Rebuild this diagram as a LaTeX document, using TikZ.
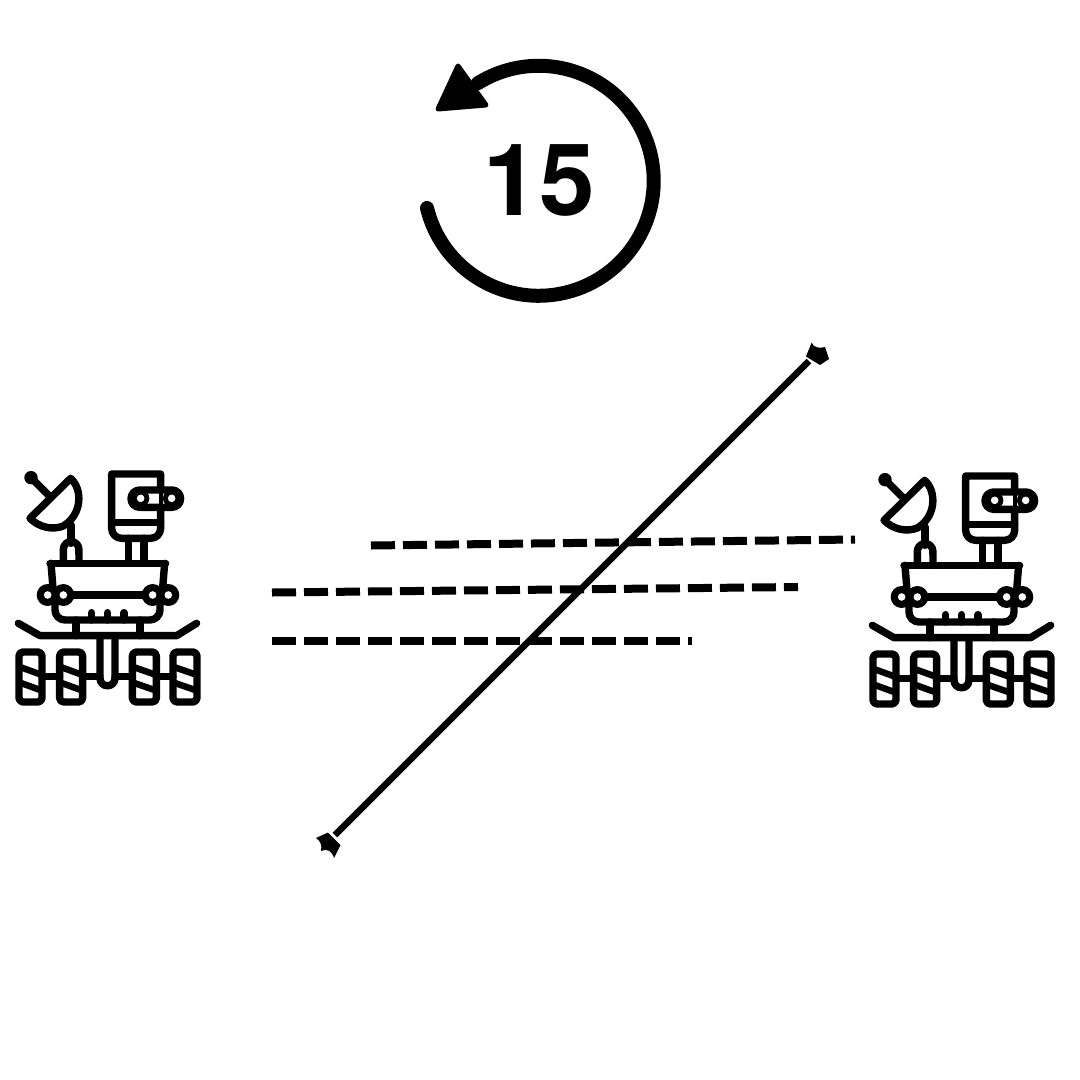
\documentclass[tikz,border=0pt]{standalone}
\usepackage{fontspec}
\setmainfont{TeX Gyre Heros}
\newcommand{\myrover}[2]{%
\begin{scope}[shift={(#1,#2)},x=0.3333pt,y=-0.3333pt,roverline]
  % antenna and dish
  \fill (93,53) circle[radius=6.7pt];
  \draw (93,53) -- (150,110);
  \draw (90,175) -- (212,55) .. controls (250,90) and (245,165) .. (190,198) .. controls (155,212) and (115,200) .. cycle;
  \draw (213,195) -- (213,250);
  \draw (190,310) -- (190,268) arc[start angle=180,end angle=0,radius=7.8pt] -- (237,310);
  % camera
  \draw (335,42) -- (482,42) -- (482,205) arc[start angle=0,end angle=-90,radius=10pt] -- (365,235) arc[start angle=270,end angle=180,radius=10pt] -- cycle;
  \draw (335,188) -- (482,188);
  \draw (385,235) -- (385,310) (432,235) -- (432,310);
  \draw[fill=white,rounded corners=8.7pt] (393,90) rectangle (542,142);
  \fill (478,92) rectangle (490,140);
  \fill (422,115) circle[radius=8.7pt] (515,115) circle[radius=8.7pt];
  \fill[white] (422,115) circle[radius=3.8pt] (515,115) circle[radius=3.8pt];
  % body
  \draw (150,310) -- (497,310);
  \draw (153,310) -- (159,385) (494,310) -- (488,385);
  \draw (165,430) -- (165,450) arc[start angle=180,end angle=270,radius=10pt] -- (450,480) arc[start angle=-90,end angle=0,radius=10pt] -- (480,430);
  \draw (200,405) -- (445,405);
  \foreach \cx in {143,190,458,505}{\fill (\cx,405) circle[radius=11pt];}
  \foreach \cx in {143,190,458,505}{\fill[white] (\cx,405) circle[radius=3.8pt];}
  \foreach \cx in {275,323,372}{\draw (\cx,458) -- (\cx,480);}
  % platform
  \draw (228,480) -- (228,527) (420,480) -- (420,527);
  \draw (55,490) -- (120,527) -- (530,527) -- (590,490);
  \draw (300,530) -- (300,655) arc[start angle=180,end angle=360,radius=7.5pt] -- (345,530);
  % wheels
  \foreach \xa/\xb in {57/126,179/248,397/469,519/591}{
    \draw[rounded corners=4pt] (\xa,576) rectangle (\xb,726);
    \draw[line width=6.5pt,line cap=butt] (\xa,620) -- (\xb,645);
    \draw[line width=6.5pt,line cap=butt] (\xa,667) -- (\xb,692);
  }
  \draw (126,650) -- (179,650) (248,650) -- (300,650) (345,650) -- (397,650) (469,650) -- (519,650);
\end{scope}}
\tikzset{
  roverline/.style={line width=7.4pt,line cap=round,line join=round},
  dashline/.style={line width=8pt,dash pattern=on 24pt off 8pt},
  tipshape/.style={fill=black,draw=none}
}
\begin{document}
\begin{tikzpicture}[x=1pt,y=-1pt]
\useasboundingbox (0,0) rectangle (1080,1080);
\fill[white] (0,0) rectangle (1080,1080);
% countdown
\draw[line width=14pt,line cap=round] (427,208) arc[start angle=193.7,end angle=482,radius=115pt];
\fill[draw=black,line width=5pt,line join=round] (458,66) -- (486,105) -- (438,109) -- cycle;
\node[inner sep=0pt,font=\fontsize{100}{100}\selectfont\bfseries] (count) at (539,180) {15};
% rovers
\myrover{0}{460}
\myrover{854}{462}
% dashed
\coordinate (d1a) at (371,545.5); \coordinate (d1b) at (855,539.5);
\coordinate (d2a) at (272,592.5); \coordinate (d2b) at (798,587);
\coordinate (d3a) at (272,640.5); \coordinate (d3b) at (692,640.5);
\draw[dashline] (d1a) -- (d1b);
\draw[dashline] (d2a) -- (d2b);
\draw[dashline] (d3a) -- (d3b);
% link
\coordinate (ta) at (809,361); \coordinate (tb) at (335,835);
\draw[line width=6.5pt] (ta) -- (tb);
\fill[tipshape] (811.7,342.5) .. controls (813,347) and (819,349) .. (825,347) -- (829,359) -- (820,365) -- (806,356.5) -- cycle;
\fill[tipshape] (316,838) -- (328,832.5) -- (340.5,845) -- (334,858) .. controls (332,851) and (327,848) .. (321,851) .. controls (322,846) and (321,841) .. (316,838) -- cycle;
\end{tikzpicture}
\end{document}
